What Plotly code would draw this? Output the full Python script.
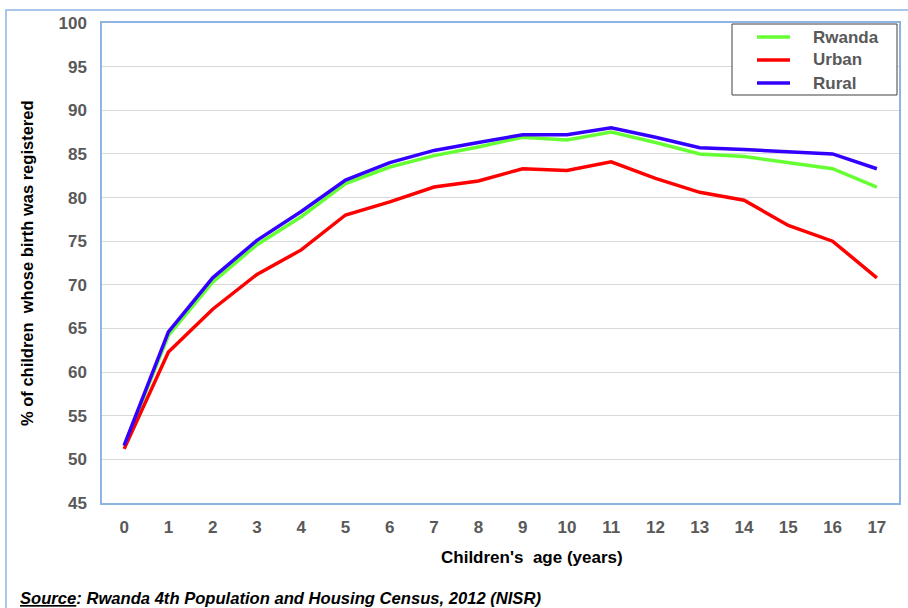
import plotly.graph_objects as go

ages = [str(a) for a in range(18)]
rwanda = [51.5, 64.2, 70.3, 74.6, 77.8, 81.6, 83.5, 84.8, 85.8, 86.9, 86.6, 87.5, 86.3, 85.0, 84.7, 84.0, 83.3, 81.2]
urban = [51.2, 62.3, 67.2, 71.2, 74.0, 78.0, 79.5, 81.2, 81.9, 83.3, 83.1, 84.1, 82.2, 80.6, 79.7, 76.8, 75.0, 70.8]
rural = [51.6, 64.6, 70.8, 75.1, 78.4, 82.0, 84.0, 85.4, 86.3, 87.2, 87.2, 88.0, 86.9, 85.7, 85.5, 85.2, 85.0, 83.3]

series = [("Rwanda", rwanda, "#66FF33"), ("Urban", urban, "#FF0000"), ("Rural", rural, "#3300FF")]

W, H = 908, 608
L, R, T, B = 102, 899, 23, 503

def px(x):
    return (x - L) / (R - L)

def py(y):
    return (B - y) / (B - T)

fig = go.Figure()
for name, vals, col in series:
    fig.add_trace(go.Scatter(x=ages, y=vals, mode="lines", name=name,
                             line=dict(color=col, width=3.5), showlegend=False))

tickfont = dict(family="Liberation Sans, Arial", size=17, color="#595959", weight="bold")
axcol = "#8EB4E3"

fig.update_xaxes(type="category", range=[-0.5, len(ages) - 0.5], showline=True, linecolor=axcol,
                 linewidth=1.5, mirror=True, showgrid=False, ticks="", tickfont=tickfont,
                 ticklabelstandoff=8, automargin=False)
fig.update_yaxes(range=[45, 100], dtick=5, showline=True, linecolor=axcol, linewidth=1.5, mirror=True,
                 showgrid=True, gridcolor="#D9D9D9", gridwidth=1, ticks="", tickfont=tickfont,
                 ticklabelstandoff=10, zeroline=False, automargin=False)

shapes = []
# outer chart frame
shapes.append(dict(type="rect", xref="paper", yref="paper", x0=px(6), x1=px(960), y0=py(700), y1=py(10),
                   line=dict(color=axcol, width=1.5), fillcolor="rgba(0,0,0,0)", layer="below"))
# legend box
shapes.append(dict(type="rect", xref="paper", yref="paper", x0=px(732), x1=px(897), y0=py(95), y1=py(24),
                   line=dict(color="#404040", width=1), fillcolor="white"))
annotations = []
rows = [37, 60, 83]
for (name, vals, col), ry in zip(series, rows):
    shapes.append(dict(type="line", xref="paper", yref="paper", x0=px(757), x1=px(790), y0=py(ry), y1=py(ry),
                       line=dict(color=col, width=3.5)))
    annotations.append(dict(text=name, xref="paper", yref="paper", x=px(811), y=py(ry), xanchor="left",
                            yanchor="middle", showarrow=False,
                            font=dict(family="Liberation Sans, Arial", size=17, color="#595959", weight="bold")))

titlefont = dict(family="Liberation Sans, Arial", size=17, color="black", weight="bold")
annotations.append(dict(text="Children's  age (years)", xref="paper", yref="paper", x=px(532), y=py(557),
                        xanchor="center", yanchor="middle", showarrow=False, font=titlefont))
annotations.append(dict(text="% of children  whose birth was registered", xref="paper", yref="paper",
                        x=px(27), y=py(263), xanchor="center", yanchor="middle", showarrow=False,
                        textangle=-90, font=dict(family="Liberation Sans, Arial", size=16.5, color="black",
                                                 weight="bold")))
annotations.append(dict(text="<b><i><u>Source</u>: Rwanda 4th Population and Housing Census, 2012 (NISR)</i></b>",
                        xref="paper", yref="paper", x=px(18), y=py(598), xanchor="left", yanchor="middle",
                        showarrow=False, font=dict(family="Liberation Sans, Arial", size=16.6, color="black")))

fig.update_layout(width=W, height=H, margin=dict(l=L, r=W - R, t=T, b=H - B, autoexpand=False),
                  paper_bgcolor="white", plot_bgcolor="white",
                  shapes=shapes, annotations=annotations, showlegend=False)

fig.write_html("out.html")
